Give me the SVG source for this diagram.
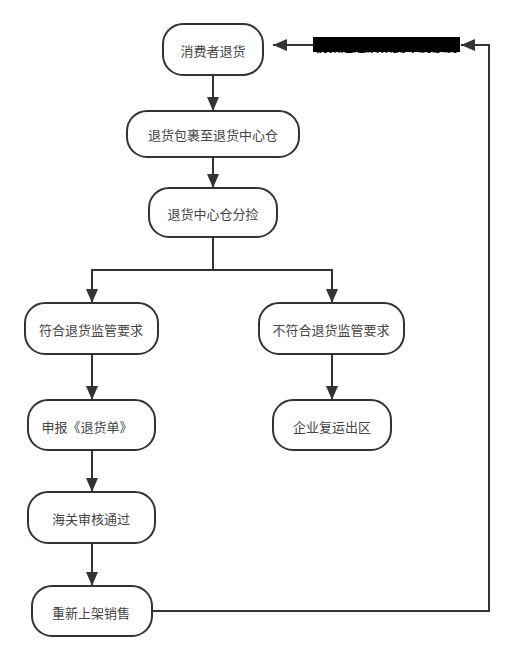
<svg xmlns="http://www.w3.org/2000/svg" width="514" height="661" viewBox="0 0 514 661">
<style>
.node rect{fill:#fff;stroke:#333;stroke-width:2}
.node text{font-family:"Noto Sans CJK SC","Noto Sans",sans-serif;font-size:13px;fill:#444;text-anchor:middle;dominant-baseline:central}
.conn path{fill:none;stroke:#333;stroke-width:2}
</style>
<defs>
<marker id="arr" markerUnits="userSpaceOnUse" markerWidth="14" markerHeight="12" refX="14" refY="6" orient="auto">
<path d="M0,0 L14,6 L0,12 z" fill="#333"/>
</marker>
</defs>
<rect width="514" height="661" fill="#fff"/>
<g class="conn" id="connectors">
<path d="M213,75 V111" marker-end="url(#arr)"/>
<path d="M213,157 V188" marker-end="url(#arr)"/>
<path d="M213,237 V270 H92 V303" marker-end="url(#arr)"/>
<path d="M213,270 H332 V303" marker-end="url(#arr)"/>
<path d="M92,354 V400" marker-end="url(#arr)"/>
<path d="M332,354 V400" marker-end="url(#arr)"/>
<path d="M92,450 V492" marker-end="url(#arr)"/>
<path d="M92,543 V586" marker-end="url(#arr)"/>
<path d="M152,611 H489 V45 H461" marker-end="url(#arr)"/>
<path d="M313,45 H273" marker-end="url(#arr)"/>
</g>
<g id="label-return">
<rect x="313" y="37" width="147" height="15" fill="#000"/>
<text x="386" y="45" font-family="Noto Sans CJK SC,sans-serif" font-size="13" font-weight="bold" fill="#000" text-anchor="middle" dominant-baseline="central">税款退还及恢复年度额度</text>
</g>
<g class="node" id="n1"><rect x="163" y="24" width="100" height="51" rx="20"/><text x="213" y="50">消费者退货</text></g>
<g class="node" id="n2"><rect x="127" y="111" width="172" height="46" rx="20"/><text x="213" y="134">退货包裹至退货中心仓</text></g>
<g class="node" id="n3"><rect x="149" y="188" width="128" height="49" rx="20"/><text x="213" y="213">退货中心仓分捡</text></g>
<g class="node" id="n4"><rect x="25" y="303" width="133" height="51" rx="20"/><text x="91" y="329">符合退货监管要求</text></g>
<g class="node" id="n5"><rect x="259" y="303" width="145" height="51" rx="20"/><text x="331" y="329">不符合退货监管要求</text></g>
<g class="node" id="n6"><rect x="28" y="400" width="127" height="50" rx="20"/><text x="87" y="426">申报《退货单》</text></g>
<g class="node" id="n7"><rect x="273" y="400" width="118" height="50" rx="20"/><text x="332" y="426">企业复运出区</text></g>
<g class="node" id="n8"><rect x="28" y="492" width="127" height="51" rx="20"/><text x="91" y="518">海关审核通过</text></g>
<g class="node" id="n9"><rect x="32" y="586" width="120" height="50" rx="20"/><text x="91" y="612">重新上架销售</text></g>
</svg>
